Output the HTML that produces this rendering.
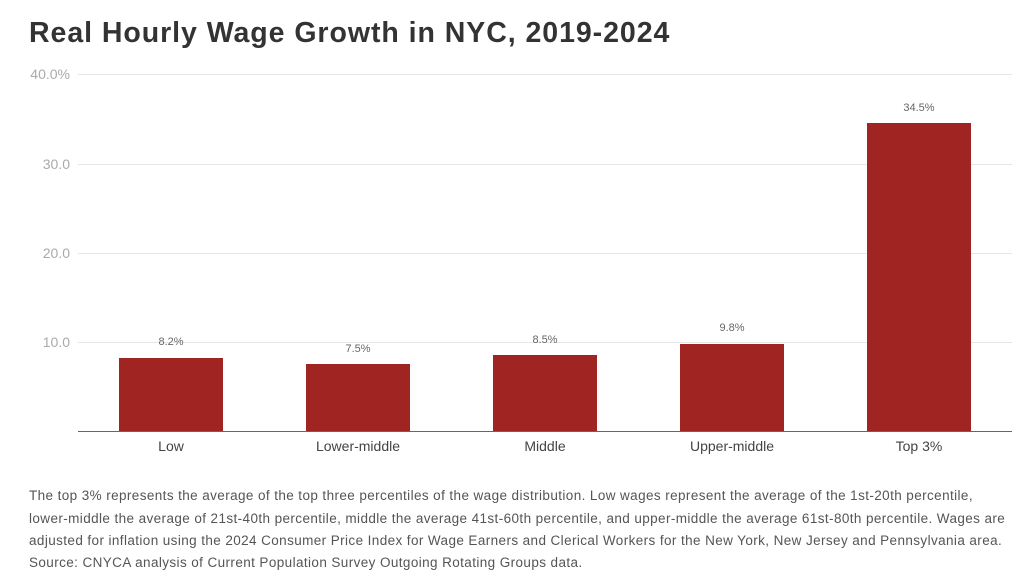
<!DOCTYPE html><html><head><style>
body{margin:0;width:1024px;height:586px;background:#fff;font-family:"Liberation Sans",sans-serif;position:relative;overflow:hidden}
.a{position:absolute}
.t{left:29px;top:17px;font-size:28.5px;font-weight:bold;color:#333;letter-spacing:0.95px}
.g{left:78px;width:934px;height:1px;background:#e6e6e6}
.yl{width:70px;left:0;text-align:right;font-size:14px;color:#aaa}
.b{background:#a02421;width:104px}
.v{width:104px;text-align:center;font-size:11px;color:#666;background:transparent}
.x{width:160px;text-align:center;font-size:14px;color:#444}
.n{left:29px;width:1000px;font-size:13.5px;letter-spacing:0.4px;color:#555;line-height:22.5px;white-space:nowrap}
</style></head><body>
<div class="a t">Real Hourly Wage Growth in NYC, 2019-2024</div>
<div class="a g" style="top:74px"></div><div class="a yl" style="top:66px">40.0%</div>
<div class="a g" style="top:164px"></div><div class="a yl" style="top:156px">30.0</div>
<div class="a g" style="top:253px"></div><div class="a yl" style="top:245px">20.0</div>
<div class="a g" style="top:342px"></div><div class="a yl" style="top:334px">10.0</div>
<div class="a" style="left:78px;width:934px;top:431px;height:1px;background:#666"></div>
<div class="a b" style="left:119px;top:358px;height:73px"></div><div class="a v" style="left:119px;top:336px">8.2%</div>
<div class="a b" style="left:306px;top:364px;height:67px"></div><div class="a v" style="left:306px;top:343px">7.5%</div>
<div class="a b" style="left:493px;top:355px;height:76px"></div><div class="a v" style="left:493px;top:334px">8.5%</div>
<div class="a b" style="left:680px;top:344px;height:87px"></div><div class="a v" style="left:680px;top:322px">9.8%</div>
<div class="a b" style="left:867px;top:123px;height:308px"></div><div class="a v" style="left:867px;top:102px">34.5%</div>
<div class="a x" style="left:91px;top:438px">Low</div>
<div class="a x" style="left:278px;top:438px">Lower-middle</div>
<div class="a x" style="left:465px;top:438px">Middle</div>
<div class="a x" style="left:652px;top:438px">Upper-middle</div>
<div class="a x" style="left:839px;top:438px">Top 3%</div>
<div class="a n" style="top:485px">The top 3% represents the average of the top three percentiles of the wage distribution. Low wages represent the average of the 1st-20th percentile,<br>lower-middle the average of 21st-40th percentile, middle the average 41st-60th percentile, and upper-middle the average 61st-80th percentile. Wages are<br>adjusted for inflation using the 2024 Consumer Price Index for Wage Earners and Clerical Workers for the New York, New Jersey and Pennsylvania area.</div>
<div class="a n" style="top:552px">Source: CNYCA analysis of Current Population Survey Outgoing Rotating Groups data.</div>
</body></html>
